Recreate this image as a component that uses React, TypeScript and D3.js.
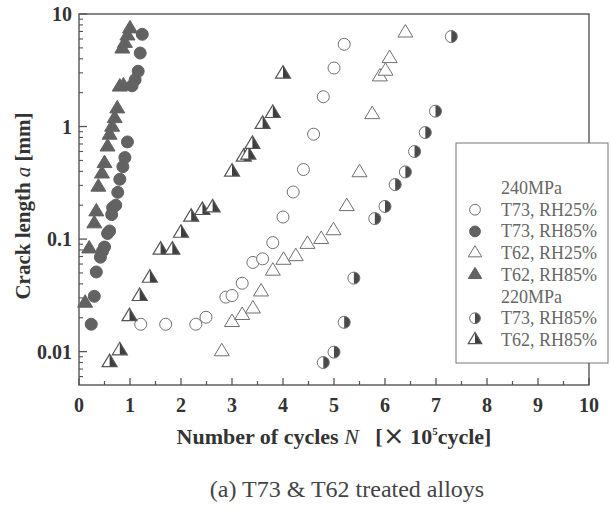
import { useEffect, useRef } from 'react';
import * as d3 from 'd3';

// [N (x10^5 cycles), crack length a (mm)]
const t73rh25_240: [number, number][] = [
  [1.21, 0.0175], [1.7, 0.0175], [2.29, 0.0175], [2.49, 0.0202], [2.88, 0.0305], [3.0, 0.0315],
  [3.2, 0.0405], [3.41, 0.062], [3.6, 0.0667], [3.8, 0.093], [4.0, 0.157], [4.2, 0.262],
  [4.4, 0.415], [4.6, 0.855], [4.79, 1.84], [5.0, 3.31], [5.2, 5.38],
];
const t73rh85_240: [number, number][] = [
  [0.24, 0.0175], [0.3, 0.031], [0.34, 0.051], [0.42, 0.069], [0.46, 0.078], [0.5, 0.085],
  [0.56, 0.112], [0.6, 0.118], [0.64, 0.165], [0.66, 0.19], [0.72, 0.2], [0.76, 0.26],
  [0.8, 0.34], [0.86, 0.44], [0.9, 0.53], [0.95, 0.73], [1.04, 2.3], [1.1, 2.6],
  [1.16, 3.1], [1.2, 4.5], [1.24, 6.6],
];
const t62rh25_240: [number, number][] = [
  [2.8, 0.01], [3.0, 0.0182], [3.2, 0.021], [3.41, 0.024], [3.57, 0.034], [3.8, 0.052],
  [4.01, 0.065], [4.25, 0.07], [4.48, 0.09], [4.75, 0.0995], [4.99, 0.119], [5.25, 0.195],
  [5.5, 0.39], [5.75, 1.28], [5.9, 2.77], [6.01, 3.11], [6.09, 4.03], [6.4, 6.8],
];
const t62rh85_240: [number, number][] = [
  [0.12, 0.027], [0.2, 0.082], [0.3, 0.137], [0.34, 0.175], [0.38, 0.29], [0.45, 0.38],
  [0.5, 0.47], [0.56, 0.66], [0.6, 0.84], [0.65, 0.99], [0.7, 1.18], [0.75, 1.44],
  [0.8, 2.25], [0.87, 2.3], [0.85, 4.9], [0.9, 5.5], [0.95, 6.4], [1.0, 7.4],
];
const t73rh85_220: [number, number][] = [
  [4.79, 0.008], [5.0, 0.0099], [5.2, 0.0182], [5.39, 0.045], [5.8, 0.152], [6.0, 0.195],
  [6.2, 0.305], [6.4, 0.395], [6.58, 0.6], [6.79, 0.885], [6.99, 1.37], [7.3, 6.3],
];
const t62rh85_220: [number, number][] = [
  [0.6, 0.008], [0.8, 0.0102], [0.99, 0.0205], [1.19, 0.031], [1.39, 0.045], [1.6, 0.08],
  [1.83, 0.08], [2.0, 0.113], [2.2, 0.157], [2.42, 0.18], [2.62, 0.19], [3.0, 0.395],
  [3.23, 0.537], [3.32, 0.56], [3.4, 0.697], [3.6, 1.05], [3.8, 1.31], [4.0, 2.93],
];

const xTicks = [0, 1, 2, 3, 4, 5, 6, 7, 8, 9, 10];
const yTicks = [0.01, 0.1, 1, 10];
const yTickLabels = ['0.01', '0.1', '1', '10'];

type Sym = 'circleOpen' | 'circleFill' | 'triOpen' | 'triFill' | 'circleHalf' | 'triHalf';

const legendRows: { label: string; sym: Sym | null }[] = [
  { label: '240MPa', sym: null },
  { label: 'T73, RH25%', sym: 'circleOpen' },
  { label: 'T73, RH85%', sym: 'circleFill' },
  { label: 'T62, RH25%', sym: 'triOpen' },
  { label: 'T62, RH85%', sym: 'triFill' },
  { label: '220MPa', sym: null },
  { label: 'T73, RH85%', sym: 'circleHalf' },
  { label: 'T62, RH85%', sym: 'triHalf' },
];

const series: { data: [number, number][]; sym: Sym }[] = [
  { data: t73rh25_240, sym: 'circleOpen' },
  { data: t62rh25_240, sym: 'triOpen' },
  { data: t73rh85_220, sym: 'circleHalf' },
  { data: t62rh85_220, sym: 'triHalf' },
  { data: t73rh85_240, sym: 'circleFill' },
  { data: t62rh85_240, sym: 'triFill' },
];

const FONT = '"Liberation Serif", "DejaVu Serif", serif';
const DARK = '#626262';
const EDGE = '#707070';

function drawSymbol(g: any, sym: Sym, x: number, y: number, s: number) {
  const r = 6 * s;
  const h = 12.5 * s; // triangle height
  const w = 15 * s;
  if (sym.startsWith('circle')) {
    if (sym === 'circleHalf') {
      g.append('circle').attr('cx', x).attr('cy', y).attr('r', r).attr('fill', 'white');
      g.append('path')
        .attr('d', `M${x},${y - r} A${r},${r} 0 0 1 ${x},${y + r} Z`)
        .attr('fill', '#4a4a4a');
      g.append('circle').attr('cx', x).attr('cy', y).attr('r', r)
        .attr('fill', 'none').attr('stroke', EDGE).attr('stroke-width', 1);
    } else {
      g.append('circle').attr('cx', x).attr('cy', y).attr('r', r)
        .attr('fill', sym === 'circleFill' ? DARK : 'white')
        .attr('stroke', sym === 'circleFill' ? DARK : EDGE)
        .attr('stroke-width', 1);
    }
  } else {
    const top = y - (h * 2) / 3;
    const bot = y + h / 3;
    const tri = `M${x},${top} L${x + w / 2},${bot} L${x - w / 2},${bot} Z`;
    if (sym === 'triHalf') {
      g.append('path').attr('d', tri).attr('fill', 'white');
      g.append('path').attr('d', `M${x},${top} L${x + w / 2},${bot} L${x},${bot} Z`).attr('fill', '#3e3e3e');
      g.append('path').attr('d', tri).attr('fill', 'none').attr('stroke', '#555').attr('stroke-width', 1.2);
    } else {
      g.append('path').attr('d', tri)
        .attr('fill', sym === 'triFill' ? DARK : 'white')
        .attr('stroke', sym === 'triFill' ? DARK : EDGE)
        .attr('stroke-width', 1);
    }
  }
}

export default function App() {
  const svgRef = useRef<SVGSVGElement | null>(null);

  useEffect(() => {
    if (!svgRef.current) return;
    const svg = d3.select(svgRef.current);
    svg.selectAll('*').remove();

    const left = 79, right = 589, top = 14, bottom = 385;
    const x = d3.scaleLinear().domain([0, 10]).range([left, right]);
    const y = d3.scaleLog().domain([0.00505, 10]).range([bottom, top]);

    svg.append('rect').attr('width', 611).attr('height', 512).attr('fill', 'white');

    const axisColor = '#555';

    // frame
    svg.append('rect')
      .attr('x', left).attr('y', top)
      .attr('width', right - left).attr('height', bottom - top)
      .attr('fill', 'none').attr('stroke', axisColor).attr('stroke-width', 1.4);

    // x ticks (inward)
    const xg = svg.append('g');
    xTicks.forEach((t) => {
      xg.append('line').attr('x1', x(t)).attr('x2', x(t)).attr('y1', bottom).attr('y2', bottom - 7)
        .attr('stroke', axisColor).attr('stroke-width', 1.3);
      xg.append('text').attr('x', x(t)).attr('y', bottom + 27)
        .attr('text-anchor', 'middle').attr('font-family', FONT).attr('font-weight', 'bold')
        .attr('font-size', 20).attr('fill', '#333').text(String(t));
      if (t < 10) {
        xg.append('line').attr('x1', x(t + 0.5)).attr('x2', x(t + 0.5)).attr('y1', bottom).attr('y2', bottom - 4)
          .attr('stroke', axisColor).attr('stroke-width', 1.2);
      }
    });

    // y ticks (inward, log minors)
    const yg = svg.append('g');
    yTicks.forEach((t, i) => {
      yg.append('line').attr('x1', left).attr('x2', left + 8).attr('y1', y(t)).attr('y2', y(t))
        .attr('stroke', axisColor).attr('stroke-width', 1.3);
      yg.append('text').attr('x', left - 7).attr('y', y(t) + 7)
        .attr('text-anchor', 'end').attr('font-family', FONT).attr('font-weight', 'bold')
        .attr('font-size', 20).attr('fill', '#333').text(yTickLabels[i]);
    });
    [0.001, 0.01, 0.1, 1].forEach((dec) => {
      for (let k = 2; k <= 9; k++) {
        const v = dec * k;
        if (v < 0.00505 || v > 10) continue;
        yg.append('line').attr('x1', left).attr('x2', left + 4).attr('y1', y(v)).attr('y2', y(v))
          .attr('stroke', axisColor).attr('stroke-width', 1.1);
      }
    });

    // data
    const pts = svg.append('g');
    series.forEach((s) => {
      s.data.forEach(([n, a]) => drawSymbol(pts, s.sym, x(n), y(a), 1));
    });

    // legend
    const lg = svg.append('g');
    lg.append('rect').attr('x', 456).attr('y', 143).attr('width', 152).attr('height', 220)
      .attr('fill', 'white').attr('stroke', '#777').attr('stroke-width', 1);
    legendRows.forEach((row, i) => {
      const cy = 188 + i * 21.7;
      if (row.sym) drawSymbol(lg, row.sym, 475, cy, 0.9);
      lg.append('text').attr('x', 501).attr('y', cy + 6)
        .attr('font-family', FONT).attr('font-size', 18).attr('fill', '#666')
        .text(row.label);
    });

    // axis titles
    const yt = svg.append('text')
      .attr('transform', `translate(30, ${206}) rotate(-90)`)
      .attr('text-anchor', 'middle').attr('font-family', FONT).attr('font-weight', 'bold')
      .attr('font-size', 21).attr('fill', '#333');
    yt.append('tspan').text('Crack length ');
    yt.append('tspan').attr('font-style', 'italic').attr('font-weight', 'normal').text('a');
    yt.append('tspan').text(' [mm]');

    const xt = svg.append('text')
      .attr('x', 334).attr('y', 444)
      .attr('text-anchor', 'middle').attr('font-family', FONT).attr('font-weight', 'bold')
      .attr('font-size', 22).attr('fill', '#333');
    xt.append('tspan').text('Number of cycles ');
    xt.append('tspan').attr('font-style', 'italic').attr('font-weight', 'normal').text('N');
    xt.append('tspan').attr('xml:space', 'preserve').text('   [');
    xt.append('tspan').attr('font-family', '"Noto Sans CJK JP", sans-serif').text('×');
    xt.append('tspan').text(' 10');
    xt.append('tspan').attr('font-size', 11).attr('dy', -9).text('5');
    xt.append('tspan').attr('dy', 9).text('cycle]');

    svg.append('text').attr('x', 347).attr('y', 497)
      .attr('text-anchor', 'middle').attr('font-family', FONT)
      .attr('font-size', 24).attr('fill', '#444')
      .text('(a) T73 & T62 treated alloys');
  }, []);

  return (
    <svg
      ref={svgRef}
      width={611}
      height={512}
      style={{ position: 'absolute', left: 0, top: 0, display: 'block' }}
    />
  );
}
